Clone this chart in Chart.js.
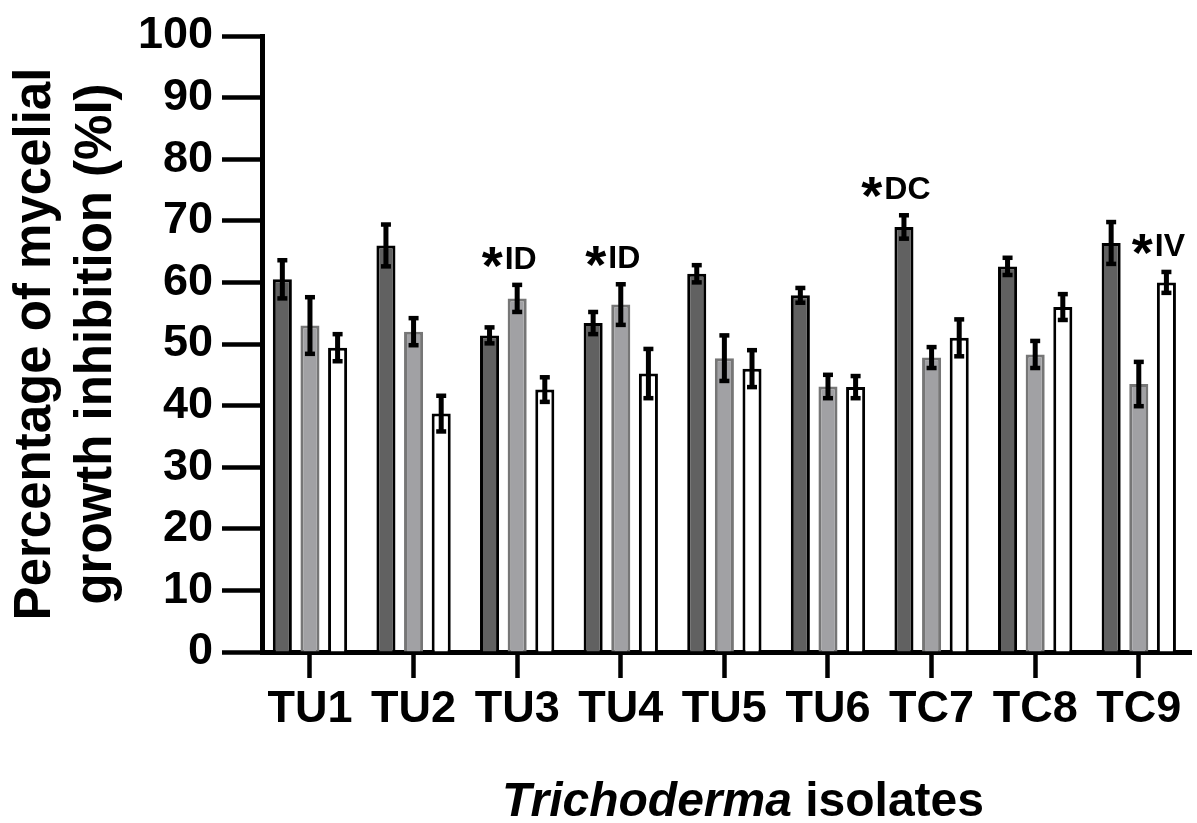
<!DOCTYPE html>
<html>
<head>
<meta charset="utf-8">
<script src="https://cdn.jsdelivr.net/npm/chart.js@4.4.0/dist/chart.umd.min.js"></script>
<style>
  body { margin: 0; background: #fff; }
  #wrap { width: 1197px; height: 823px; position: relative; }
</style>
</head>
<body>
<div id="wrap"><canvas id="chart"></canvas></div>
<script>
const FONT = '"Liberation Sans", Arial, sans-serif';

// isolates on the x axis
const isolates = ['TU1', 'TU2', 'TU3', 'TU4', 'TU5', 'TU6', 'TC7', 'TC8', 'TC9'];

// mean inhibition (%) for each of the three series
const darkValues  = [60.5, 66.0, 51.4, 53.4, 61.4, 57.9, 69.0, 62.6, 66.4];
const greyValues  = [53.0, 52.0, 57.4, 56.4, 47.7, 43.1, 47.8, 48.3, 43.5];
const whiteValues = [49.4, 38.7, 42.6, 45.2, 46.0, 43.0, 51.0, 56.0, 60.0];

// error bar half-widths
const darkErrors  = [3.3, 3.6, 1.5, 2.0, 1.6, 1.4, 2.1, 1.6, 3.6];
const greyErrors  = [4.8, 2.4, 2.4, 3.5, 3.9, 2.1, 1.9, 2.4, 3.8];
const whiteErrors = [2.4, 3.1, 2.2, 4.2, 3.2, 2.0, 3.2, 2.3, 1.9];

// y axis ticks
const yTicks = [0, 10, 20, 30, 40, 50, 60, 70, 80, 90, 100];

// significance marks: category index, series index, label
const marks = [
    { cat: 2, ser: 1, text: 'ID' },
    { cat: 3, ser: 1, text: 'ID' },
    { cat: 6, ser: 0, text: 'DC' },
    { cat: 8, ser: 2, text: 'IV' }
];

const errorSets = [darkErrors, greyErrors, whiteErrors];

function toPoints(values) {
    return values.map((v, i) => ({ x: i, y: v }));
}

const errorBarPlugin = {
    id: 'errorBars',
    afterDatasetsDraw(chart) {
        const ctx = chart.ctx;
        const yScale = chart.scales.y;
        ctx.save();
        ctx.fillStyle = '#000';
        chart.data.datasets.forEach((ds, di) => {
            const meta = chart.getDatasetMeta(di);
            meta.data.forEach((bar, i) => {
                const v = ds.data[i].y;
                const e = errorSets[di][i];
                const top = yScale.getPixelForValue(v + e);
                const bottom = yScale.getPixelForValue(v - e);
                ctx.fillRect(bar.x - 2.5, top, 5, bottom - top);
                ctx.fillRect(bar.x - 5, top - 1, 10, 4.5);
                ctx.fillRect(bar.x - 5, bottom - 3.5, 10, 4.5);
            });
        });

        // significance labels
        marks.forEach(m => {
            const bar = chart.getDatasetMeta(m.ser).data[m.cat];
            const v = chart.data.datasets[m.ser].data[m.cat].y;
            const errTop = yScale.getPixelForValue(v + errorSets[m.ser][m.cat]);
            const base = errTop - 15;
            ctx.font = 'bold 54px ' + FONT;
            const starW = ctx.measureText('*').width;
            ctx.font = 'bold 32px ' + FONT;
            const txtW = ctx.measureText(m.text).width;
            const total = starW + 2 + txtW;
            const left = bar.x - 8 - total / 2;
            ctx.textAlign = 'left';
            ctx.textBaseline = 'alphabetic';
            ctx.font = 'bold 54px ' + FONT;
            ctx.fillText('*', left, base + 15);
            ctx.font = 'bold 32px ' + FONT;
            ctx.fillText(m.text, left + starW + 2, base);
        });

        // x axis title with the genus in italics
        const part1 = 'Trichoderma';
        const part2 = ' isolates';
        ctx.font = 'italic bold 48px ' + FONT;
        const w1 = ctx.measureText(part1).width;
        ctx.font = 'bold 48px ' + FONT;
        const w2 = ctx.measureText(part2).width;
        const x0 = 743 - (w1 + w2) / 2;
        ctx.textAlign = 'left';
        ctx.textBaseline = 'alphabetic';
        ctx.font = 'italic bold 48px ' + FONT;
        ctx.fillText(part1, x0, 816);
        ctx.font = 'bold 48px ' + FONT;
        ctx.fillText(part2, x0 + w1, 816);
        ctx.restore();
    }
};

const ctx = document.getElementById('chart').getContext('2d');
new Chart(ctx, {
    type: 'bar',
    data: {
        datasets: [
            {
                data: toPoints(darkValues),
                backgroundColor: '#616161',
                borderColor: '#000',
                borderWidth: 3
            },
            {
                data: toPoints(greyValues),
                backgroundColor: '#a1a1a4',
                borderColor: '#767676',
                borderWidth: 3
            },
            {
                data: toPoints(whiteValues),
                backgroundColor: '#ffffff',
                borderColor: '#000',
                borderWidth: 3
            }
        ]
    },
    options: {
        responsive: true,
        maintainAspectRatio: false,
        animation: false,
        categoryPercentage: 0.8,
        barPercentage: 0.69,
        layout: { padding: { top: 33, right: 6, bottom: 0, left: 0 } },
        plugins: {
            legend: { display: false },
            tooltip: { enabled: false }
        },
        scales: {
            x: {
                type: 'linear',
                min: -0.463,
                max: 8.504,
                offset: false,
                afterFit: s => { s.height = 171; },
                border: { display: true, color: '#000', width: 5 },
                grid: {
                    offset: false,
                    drawOnChartArea: false,
                    drawTicks: true,
                    tickLength: 26,
                    tickWidth: 4.5,
                    tickColor: '#000'
                },
                ticks: {
                    stepSize: 1,
                    includeBounds: false,
                    autoSkip: false,
                    maxRotation: 0,
                    padding: 5,
                    color: '#000',
                    font: { family: FONT, size: 45, weight: 'bold' },
                    callback: v => Number.isInteger(v) ? (isolates[v] || '') : ''
                }
            },
            y: {
                min: 0,
                max: 100,
                afterFit: s => { s.width = 262; },
                afterBuildTicks: s => { s.ticks = yTicks.map(v => ({ value: v })); },
                border: { display: true, color: '#000', width: 5 },
                grid: {
                    drawOnChartArea: false,
                    drawTicks: true,
                    tickLength: 40,
                    tickWidth: 4.5,
                    tickColor: '#000'
                },
                ticks: {
                    padding: 9,
                    color: '#000',
                    font: { family: FONT, size: 45, weight: 'bold' }
                },
                title: {
                    display: true,
                    text: ['Percentage of mycelial', 'growth inhibition (%I)'],
                    color: '#000',
                    padding: { top: 5, bottom: 0 },
                    font: { family: FONT, size: 51, weight: 'bold', lineHeight: 1.2 }
                }
            }
        }
    },
    plugins: [errorBarPlugin]
});
</script>
</body>
</html>
